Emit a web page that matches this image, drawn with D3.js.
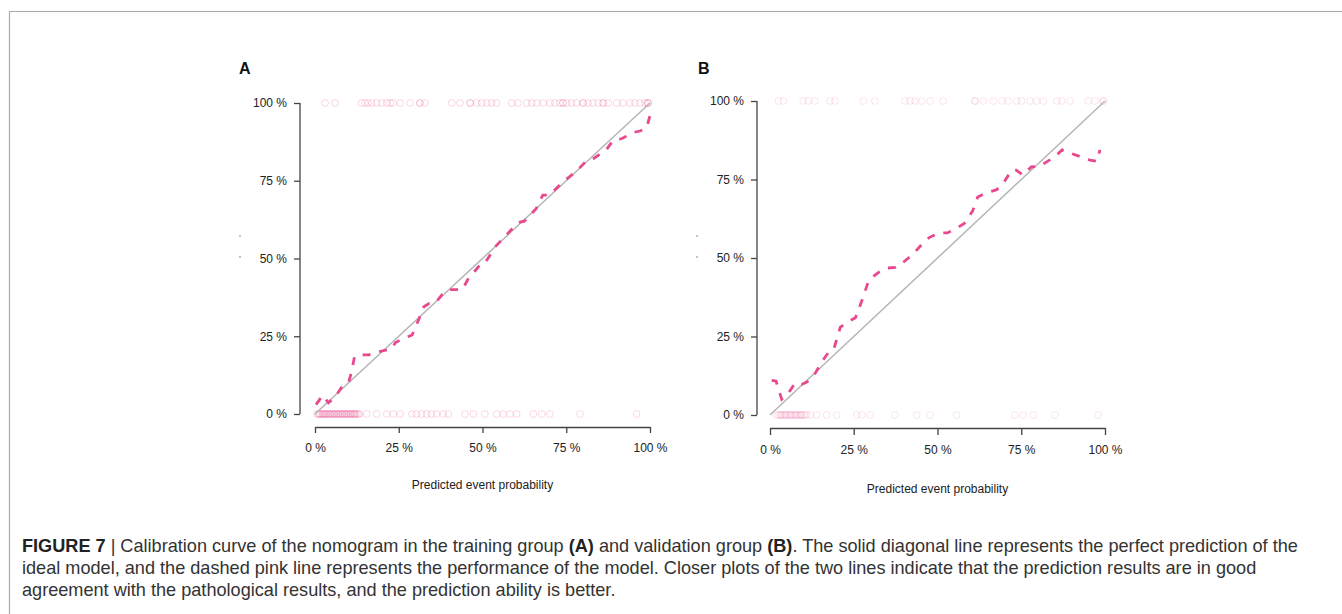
<!DOCTYPE html>
<html>
<head>
<meta charset="utf-8">
<script src="https://cdn.jsdelivr.net/npm/d3@7"></script>
<style>
  html, body { margin: 0; padding: 0; background: #fff; }
  svg { display: block; }
  text { font-family: "Liberation Sans", Arial, Helvetica, sans-serif; }
</style>
</head>
<body>
<svg id="fig" width="1342" height="614"></svg>
<script>
// Axis ticks (percent)
const tickValues = [0, 25, 50, 75, 100];

// Training group (A): calibration curve, predicted vs observed (%)
const curveA_x = [0.3, 2.3, 4.0, 6.0, 8.0, 10.0, 11.0, 11.8, 13.5, 16.0, 19.0, 21.0, 23.0, 24.0, 27.0, 29.0, 31.0, 32.5, 34.0, 36.0, 38.0, 40.0, 44.0, 46.0, 47.0, 50.0, 51.0, 54.0, 57.5, 60.5, 62.5, 66.0, 68.0, 70.0, 74.0, 78.0, 81.0, 83.0, 87.0, 89.0, 91.5, 95.0, 97.0, 99.0, 100.0];
const curveA_y = [3.0, 6.0, 3.6, 5.5, 8.7, 10.0, 14.0, 18.5, 19.0, 19.0, 20.0, 20.5, 21.0, 23.0, 24.5, 25.4, 30.5, 34.5, 35.5, 35.8, 38.5, 40.0, 40.0, 44.0, 45.0, 49.0, 49.0, 54.0, 58.0, 61.5, 62.0, 66.0, 70.4, 70.4, 74.6, 78.0, 81.4, 82.0, 85.0, 88.0, 88.5, 90.5, 91.0, 92.0, 96.0];
// Training group (A): predicted probability of patients with / without the event
const eventsA = [3.0, 6.0, 13.9, 14.9, 15.8, 16.9, 18.4, 19.9, 21.4, 22.4, 23.3, 25.4, 28.4, 31.3, 31.3, 32.8, 40.8, 43.3, 46.3, 46.3, 48.3, 49.8, 51.3, 52.7, 54.2, 58.7, 60.6, 63.2, 64.7, 66.2, 68.1, 70.1, 71.6, 73.1, 74.0, 74.0, 75.1, 76.6, 78.1, 80.0, 80.0, 81.5, 83.0, 84.5, 86.0, 86.0, 87.5, 90.1, 91.9, 94.0, 95.5, 97.0, 98.5, 99.4, 99.4, 99.4];
const noEventsA = [0.6, 1.0, 1.4, 1.8, 2.2, 2.6, 3.0, 3.3, 3.7, 4.1, 4.5, 4.9, 5.3, 5.7, 6.1, 6.5, 6.9, 7.3, 7.7, 8.1, 8.5, 8.9, 9.3, 9.7, 10.1, 10.5, 10.9, 11.3, 11.7, 12.1, 12.5, 12.9, 13.3, 1.2, 2.4, 3.5, 4.6, 5.8, 7.0, 8.2, 9.4, 10.6, 11.8, 15.4, 18.4, 21.4, 23.4, 25.4, 28.9, 30.3, 31.8, 33.3, 34.8, 36.3, 38.3, 39.8, 44.8, 47.3, 50.7, 54.2, 56.2, 58.2, 60.2, 65.2, 67.7, 70.1, 79.1, 96.0];

// Validation group (B)
const curveB_x = [0.5, 1.8, 3.5, 5.5, 7.5, 9.5, 11.0, 13.0, 15.5, 17.5, 19.0, 21.0, 23.5, 25.5, 27.5, 29.5, 32.5, 35.0, 37.5, 39.5, 42.5, 45.7, 47.5, 50.5, 53.0, 56.0, 58.0, 60.5, 62.0, 64.5, 67.5, 69.0, 72.2, 73.5, 75.5, 78.0, 80.6, 85.0, 87.2, 89.6, 95.5, 97.6, 98.5];
const curveB_y = [11.0, 10.8, 5.0, 7.0, 10.2, 9.8, 10.5, 12.4, 17.0, 20.0, 20.8, 28.0, 29.8, 31.0, 36.6, 43.0, 45.5, 46.8, 47.0, 48.4, 51.0, 54.8, 56.5, 58.0, 58.0, 59.7, 61.0, 65.0, 69.4, 70.7, 71.7, 72.8, 78.0, 78.0, 76.4, 79.0, 79.3, 82.2, 84.4, 83.4, 81.2, 80.8, 84.4];
const eventsB = [2.5, 4.0, 9.9, 11.4, 13.4, 17.9, 19.4, 27.9, 31.3, 40.3, 41.8, 43.3, 45.3, 47.8, 51.7, 61.2, 61.2, 63.7, 66.7, 69.2, 71.1, 73.6, 75.1, 77.6, 79.6, 81.6, 85.6, 87.1, 89.6, 95.0, 97.0, 99.5, 99.5];
const noEventsB = [2.0, 2.5, 3.0, 3.5, 4.0, 4.5, 5.0, 5.5, 6.0, 6.5, 7.0, 7.5, 8.0, 8.5, 9.0, 9.5, 10.0, 10.5, 11.0, 12.0, 3.2, 4.7, 6.2, 7.7, 9.2, 13.9, 16.9, 19.9, 25.9, 27.4, 29.9, 37.3, 43.8, 47.8, 55.7, 73.1, 75.6, 78.6, 85.1, 98.0];

const panelLabels = ["A", "B"];
const xTitle = "Predicted event probability";

const svg = d3.select("#fig");
const pink = "#e8488e";

// light frame around the figure
svg.append("path")
  .attr("d", "M9.5,614 L9.5,11.5 L1342,11.5")
  .attr("fill", "none").attr("stroke", "#a8a8a8").attr("stroke-width", 1.2);

const panels = [
  { label: panelLabels[0], cx: curveA_x, cy: curveA_y, ev: eventsA, nev: noEventsA,
    xr: [315, 650], yr: [414, 103], yAxisX: 300, xAxisY: 427, tick: 6, rugAlpha: 0.22,
    labelPos: [239, 74], titleY: 489, dotX: 240 },
  { label: panelLabels[1], cx: curveB_x, cy: curveB_y, ev: eventsB, nev: noEventsB,
    xr: [770, 1105], yr: [415, 101], yAxisX: 757, xAxisY: 428, tick: 7, rugAlpha: 0.15,
    labelPos: [698, 74], titleY: 493, dotX: 697 }
];

panels.forEach(p => {
  const g = svg.append("g");
  const x = d3.scaleLinear().domain([0, 100]).range(p.xr);
  const y = d3.scaleLinear().domain([0, 100]).range(p.yr);

  // rug of predicted probabilities at 0 % and 100 %
  const rug = g.append("g").attr("fill", "none").attr("stroke", pink)
    .attr("stroke-width", 1).attr("stroke-opacity", p.rugAlpha);
  rug.selectAll("circle.ev").data(p.ev).join("circle").attr("class", "ev")
    .attr("cx", d => x(d)).attr("cy", y(100)).attr("r", 3.4);
  rug.selectAll("circle.nev").data(p.nev).join("circle").attr("class", "nev")
    .attr("cx", d => x(d)).attr("cy", y(0)).attr("r", 3.4);

  // ideal diagonal
  g.append("path")
    .attr("d", d3.line().x(d => x(d)).y(d => y(d))([0, 100]))
    .attr("stroke", "#b5b5b5").attr("stroke-width", 1.5).attr("fill", "none");

  // calibration curve
  const pts = p.cx.map((v, i) => [v, p.cy[i]]);
  g.append("path")
    .attr("d", d3.line().x(d => x(d[0])).y(d => y(d[1]))(pts))
    .attr("fill", "none").attr("stroke", pink).attr("stroke-width", 2.8)
    .attr("stroke-dasharray", "8,9").attr("stroke-linecap", "butt");

  // axes
  const fmt = d => d + " %";
  const xAxis = g.append("g").attr("transform", `translate(0,${p.xAxisY})`)
    .call(d3.axisBottom(x).tickValues(tickValues).tickFormat(fmt)
      .tickSize(p.tick).tickSizeOuter(0).tickPadding(10));
  const yAxis = g.append("g").attr("transform", `translate(${p.yAxisX},0)`)
    .call(d3.axisLeft(y).tickValues(tickValues).tickFormat(fmt)
      .tickSize(6).tickSizeOuter(0).tickPadding(7));
  [xAxis, yAxis].forEach(a => {
    a.select(".domain").attr("stroke", "#444").attr("stroke-width", 1.3);
    a.selectAll(".tick line").attr("stroke", "#444").attr("stroke-width", 1.3);
    a.selectAll(".tick text").attr("fill", "#222").attr("font-size", 12)
      .attr("font-family", "'Liberation Sans', Arial, sans-serif");
  });
  yAxis.select(".domain").attr("d", `M0,${y(0)}V${y(100)}`);

  // x title
  g.append("text").attr("x", (p.xr[0] + p.xr[1]) / 2).attr("y", p.titleY)
    .attr("text-anchor", "middle").attr("font-size", 12).attr("fill", "#222")
    .text(xTitle);

  // panel label
  g.append("text").attr("x", p.labelPos[0]).attr("y", p.labelPos[1])
    .attr("font-size", 16).attr("font-weight", "bold").attr("fill", "#111")
    .text(p.label);

  // residue of the rotated y title
  g.selectAll("circle.ydot").data([236, 257]).join("circle")
    .attr("cx", p.dotX).attr("cy", d => d).attr("r", 0.8).attr("fill", "#777");
});

// caption
const capLines = [
  [["FIGURE 7", true], [" | Calibration curve of the nomogram in the training group ", false], ["(A)", true], [" and validation group ", false], ["(B)", true], [". The solid diagonal line represents the perfect prediction of the", false]],
  [["ideal model, and the dashed pink line represents the performance of the model. Closer plots of the two lines indicate that the prediction results are in good", false]],
  [["agreement with the pathological results, and the prediction ability is better.", false]]
];
const capY = [552, 574, 596];
const cap = svg.append("g");
const texts = capLines.map((line, i) => {
  const t = cap.append("text").attr("x", 22).attr("y", capY[i])
    .attr("font-size", 15).attr("fill", "#333");
  line.forEach(([s, b]) => t.append("tspan").attr("font-weight", b ? "bold" : "normal")
    .attr("fill", b ? "#222" : "#333").text(s));
  return t;
});
// size the caption so that the first line spans the text block
const w0 = texts[0].node().getComputedTextLength();
const fs = 15 * (1277 / w0);
texts.forEach(t => t.attr("font-size", fs));
</script>
</body>
</html>
